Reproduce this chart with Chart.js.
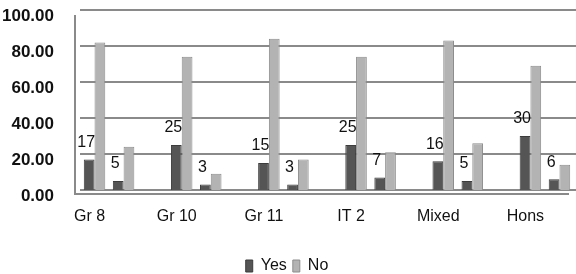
<!DOCTYPE html>
<html>
<head>
<meta charset="utf-8">
<script src="https://cdn.jsdelivr.net/npm/chart.js@4"></script>
<style>
html,body{margin:0;padding:0;background:#fff;}
#wrap{width:576px;height:274px;position:relative;}
</style>
</head>
<body>
<div id="wrap"><canvas id="c" width="576" height="274"></canvas></div>
<script>
// Categories and values
const categories = ['Gr 8', 'Gr 10', 'Gr 11', 'IT 2', 'Mixed', 'Hons'];
const yesFirst  = [17, 25, 15, 25, 16, 30];
const noFirst   = [82, 74, 84, 74, 83, 69];
const yesSecond = [5, 3, 3, 7, 5, 6];
const noSecond  = [24, 9, 17, 21, 26, 14];
const yMin = 0, yMax = 100, yStep = 20;

// Build slot layout: per category -> first pair, second pair, gap (no gap after last)
const slotLabels = [], yesData = [], noData = [];
categories.forEach((c, i) => {
  slotLabels.push(c); yesData.push(yesFirst[i]); noData.push(noFirst[i]);
  slotLabels.push(''); yesData.push(yesSecond[i]); noData.push(noSecond[i]);
  if (i < categories.length - 1) { slotLabels.push(''); yesData.push(null); noData.push(null); }
});

const FONT = "'Liberation Sans', Arial, sans-serif";
const GRID = '#8a8a8a';

// 3D-style walls: gridlines on the back wall, left wall edge and floor edge
const walls = {
  id: 'walls',
  beforeDatasetsDraw(chart) {
    const ctx = chart.ctx, a = chart.chartArea, y = chart.scales.y;
    ctx.save();
    ctx.fillStyle = GRID;
    y.ticks.forEach(t => {
      const py = Math.round(y.getPixelForValue(t.value));
      ctx.fillRect(a.left, py - 1, a.right + 2 - a.left, 2);
    });
    // floor front edge
    ctx.fillRect(a.left - 5, a.bottom + 3, a.right - a.left, 2);
    // left wall edge
    ctx.fillRect(a.left - 6, a.top + 5, 2, a.bottom - a.top);
    ctx.restore();
  }
};

const valueLabels = {
  id: 'valueLabels',
  afterDatasetsDraw(chart) {
    const ctx = chart.ctx;
    const meta = chart.getDatasetMeta(0);
    ctx.save();
    ctx.font = '16px ' + FONT;
    ctx.fillStyle = '#111';
    ctx.textAlign = 'center';
    ctx.textBaseline = 'bottom';
    meta.data.forEach((bar, i) => {
      const v = yesData[i];
      if (v === null || v === undefined) return;
      ctx.fillText(String(v), bar.x - 3, bar.y - 9);
    });
    ctx.restore();
  }
};

new Chart(document.getElementById('c'), {
  type: 'bar',
  data: {
    labels: slotLabels,
    datasets: [
      { label: 'Yes', data: yesData, backgroundColor: '#555555', borderColor: '#3c3c3c', borderWidth: 1,
        categoryPercentage: 0.74, barPercentage: 1.0 },
      { label: 'No', data: noData, backgroundColor: '#b3b3b3', borderColor: '#8c8c8c', borderWidth: 1,
        categoryPercentage: 0.74, barPercentage: 1.0 }
    ]
  },
  options: {
    responsive: false,
    animation: false,
    devicePixelRatio: 1,
    layout: { padding: { top: 10, right: 2, left: 0, bottom: -10 } },
    plugins: {
      legend: {
        position: 'bottom',
        labels: { boxWidth: 7, boxHeight: 12, padding: 6, color: '#111', font: { family: FONT, size: 16 } }
      },
      tooltip: { enabled: false }
    },
    scales: {
      x: {
        grid: { display: false },
        border: { display: false },
        ticks: { autoSkip: false, maxRotation: 0, minRotation: 0, padding: 9, labelOffset: -5,
                 color: '#111', font: { family: FONT, size: 16 } },
        afterFit(scale) { scale.height = 62; }
      },
      y: {
        min: yMin, max: yMax,
        grid: { display: false },
        border: { display: false },
        ticks: { stepSize: yStep, padding: 18, labelOffset: 6, color: '#111',
                 font: { family: FONT, size: 17, weight: 'bold' },
                 callback: v => Number(v).toFixed(2) },
        afterFit(scale) { scale.width = 80; scale.paddingTop = 0; scale.paddingBottom = 0; }
      }
    }
  },
  plugins: [walls, valueLabels]
});
</script>
</body>
</html>
